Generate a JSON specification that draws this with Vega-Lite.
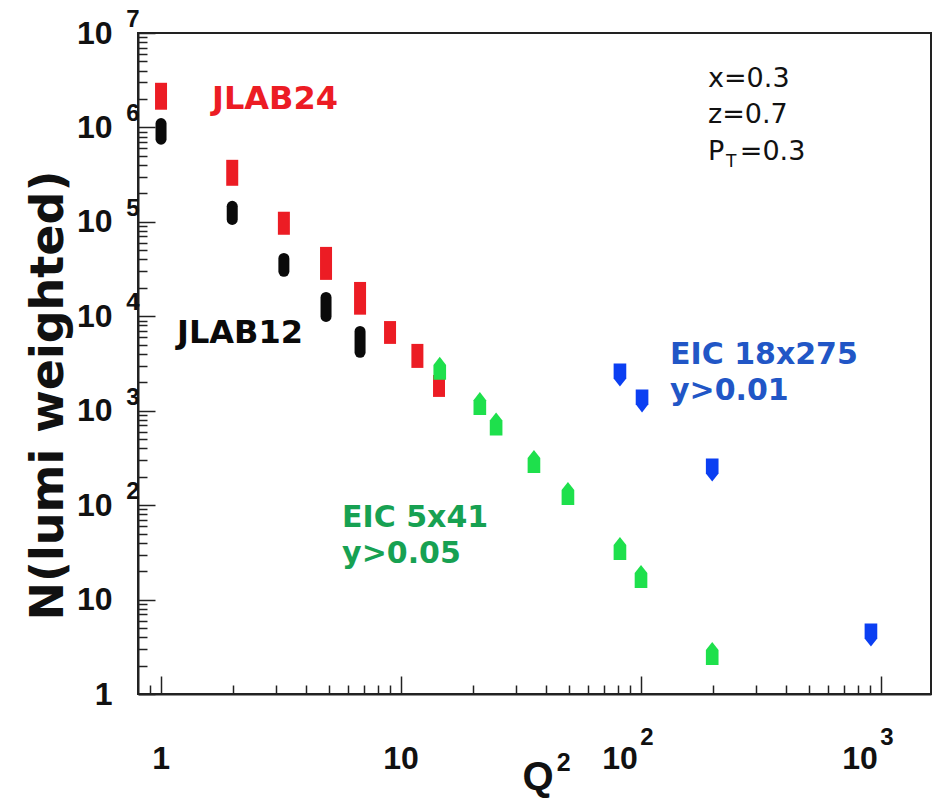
{
  "$schema": "https://vega.github.io/schema/vega-lite/v6.json",
  "width": 793,
  "height": 661,
  "autosize": "none",
  "padding": {"left": 138, "top": 33, "right": 18, "bottom": 108},
  "background": "white",
  "config": {
    "view": {"stroke": "#222", "strokeWidth": 2},
    "axis": {"grid": false}
  },
  "datasets": {
    "jlab24": [
      {"q2": 1.0, "n_low": 1540000, "n_high": 2970000},
      {"q2": 1.98, "n_low": 241000, "n_high": 454000},
      {"q2": 3.25, "n_low": 73000, "n_high": 128000},
      {"q2": 4.87, "n_low": 24300, "n_high": 54300},
      {"q2": 6.75, "n_low": 10400, "n_high": 23100},
      {"q2": 9.0, "n_low": 5100, "n_high": 8900},
      {"q2": 11.7, "n_low": 2840, "n_high": 5100},
      {"q2": 14.4, "n_low": 1400, "n_high": 2390}
    ],
    "jlab12": [
      {"q2": 1.0, "n_low": 750000, "n_high": 1100000},
      {"q2": 1.98, "n_low": 106000, "n_high": 146000},
      {"q2": 3.25, "n_low": 29900, "n_high": 41000},
      {"q2": 4.87, "n_low": 9970, "n_high": 15850},
      {"q2": 6.75, "n_low": 4150, "n_high": 6920}
    ],
    "eic_5x41": [
      {"q2": 14.5, "n": 2810},
      {"q2": 21.3, "n": 1190},
      {"q2": 24.9, "n": 725},
      {"q2": 35.8, "n": 290},
      {"q2": 49.6, "n": 133},
      {"q2": 81.7, "n": 34.8},
      {"q2": 100, "n": 17.6},
      {"q2": 198, "n": 2.69}
    ],
    "eic_18x275": [
      {"q2": 81.7, "n": 2390},
      {"q2": 101, "n": 1270},
      {"q2": 198, "n": 236},
      {"q2": 908, "n": 4.22}
    ],
    "x_labels": [
      {"q2": 1, "label": "1"},
      {"q2": 10, "label": "10"}
    ],
    "x_labels_pow": [
      {"q2": 100, "label": "10", "exp": "2"},
      {"q2": 1000, "label": "10", "exp": "3"}
    ],
    "y_exponents": [
      {"n": 100, "exp": "2"},
      {"n": 1000, "exp": "3"},
      {"n": 10000, "exp": "4"},
      {"n": 100000, "exp": "5"},
      {"n": 1000000, "exp": "6"},
      {"n": 10000000, "exp": "7"}
    ],
    "anchor": [{}]
  },
  "layer": [
    {
      "data": {"name": "jlab24"},
      "mark": {"type": "rule", "strokeWidth": 12, "strokeCap": "butt", "color": "#ec1c24"},
      "encoding": {
        "x": {
          "field": "q2", "type": "quantitative",
          "scale": {"type": "log", "domain": [0.8017, 1615.6], "nice": false},
          "axis": {
            "orient": "bottom", "values": [1, 10, 100, 1000], "labels": false,
            "tickSize": -18, "tickColor": "#222", "tickWidth": 1.5,
            "domainColor": "#222", "domainWidth": 2, "title": null
          }
        },
        "y": {
          "field": "n_low", "type": "quantitative",
          "scale": {"type": "log", "domain": [1, 10000000], "nice": false},
          "axis": {
            "orient": "left",
            "values": [1, 10, 100, 1000, 10000, 100000, 1000000, 10000000],
            "labelExpr": "datum.value == 1 ? '1' : '10'",
            "labelFont": "Liberation Sans", "labelFontSize": 32, "labelFontWeight": "bold",
            "labelColor": "#111", "labelPadding": 43, "labelOverlap": false, "labelBaseline": "middle",
            "tickSize": -17, "tickColor": "#222", "tickWidth": 1.5,
            "domainColor": "#222", "domainWidth": 2,
            "title": "N(lumi weighted)",
            "titleFont": "DejaVu Sans", "titleFontSize": 46, "titleFontWeight": "bold",
            "titleColor": "#111", "titleAngle": -90, "titleBaseline": "bottom", "titleAlign": "center",
            "titleX": -66, "titleY": 362
          }
        },
        "y2": {"field": "n_high"}
      }
    },
    {
      "data": {"name": "jlab12"},
      "mark": {"type": "rule", "strokeWidth": 11, "strokeCap": "round", "color": "#0a0a0a"},
      "encoding": {
        "x": {
          "field": "q2", "type": "quantitative",
          "scale": {"type": "log", "domain": [0.8017, 1615.6], "nice": false},
          "axis": {
            "orient": "bottom",
            "values": [0.9, 2, 3, 4, 5, 6, 7, 8, 9, 20, 30, 40, 50, 60, 70, 80, 90, 200, 300, 400, 500, 600, 700, 800, 900],
            "labels": false, "domain": false,
            "tickSize": -9, "tickColor": "#222", "tickWidth": 1.5, "title": null
          }
        },
        "y": {
          "field": "n_low", "type": "quantitative",
          "scale": {"type": "log", "domain": [1, 10000000], "nice": false},
          "axis": {
            "orient": "left",
            "values": [2, 3, 4, 5, 6, 7, 8, 9,
                       20, 30, 40, 50, 60, 70, 80, 90,
                       200, 300, 400, 500, 600, 700, 800, 900,
                       2000, 3000, 4000, 5000, 6000, 7000, 8000, 9000,
                       20000, 30000, 40000, 50000, 60000, 70000, 80000, 90000,
                       200000, 300000, 400000, 500000, 600000, 700000, 800000, 900000,
                       2000000, 3000000, 4000000, 5000000, 6000000, 7000000, 8000000, 9000000],
            "labels": false, "domain": false,
            "tickSize": -9, "tickColor": "#222", "tickWidth": 1.5, "title": null
          }
        },
        "y2": {"field": "n_high"}
      }
    },
    {
      "data": {"name": "eic_5x41"},
      "mark": {
        "type": "point", "filled": true, "opacity": 1, "size": 529, "color": "#1ee04c",
        "shape": "M0,-1L0.55,-0.3L0.55,1L-0.55,1L-0.55,-0.3Z"
      },
      "encoding": {
        "x": {"field": "q2", "type": "quantitative", "scale": {"type": "log", "domain": [0.8017, 1615.6], "nice": false}, "axis": null},
        "y": {"field": "n", "type": "quantitative", "scale": {"type": "log", "domain": [1, 10000000], "nice": false}, "axis": null}
      }
    },
    {
      "data": {"name": "eic_18x275"},
      "mark": {
        "type": "point", "filled": true, "opacity": 1, "size": 529, "color": "#0b3ff2",
        "shape": "M0,1L0.55,0.3L0.55,-1L-0.55,-1L-0.55,0.3Z"
      },
      "encoding": {
        "x": {"field": "q2", "type": "quantitative", "scale": {"type": "log", "domain": [0.8017, 1615.6], "nice": false}, "axis": null},
        "y": {"field": "n", "type": "quantitative", "scale": {"type": "log", "domain": [1, 10000000], "nice": false}, "axis": null}
      }
    },
    {
      "data": {"name": "y_exponents"},
      "mark": {"type": "text", "font": "Liberation Sans", "fontSize": 24, "fontWeight": "bold", "color": "#111", "align": "center", "baseline": "alphabetic", "dx": -5, "dy": -6},
      "encoding": {
        "x": {"datum": 0.8017, "type": "quantitative", "scale": {"type": "log", "domain": [0.8017, 1615.6], "nice": false}, "axis": null},
        "y": {"field": "n", "type": "quantitative", "scale": {"type": "log", "domain": [1, 10000000], "nice": false}, "axis": null},
        "text": {"field": "exp"}
      }
    },
    {
      "data": {"name": "x_labels"},
      "mark": {"type": "text", "font": "Liberation Sans", "fontSize": 32, "fontWeight": "bold", "color": "#111", "align": "center", "baseline": "top", "dy": 50},
      "encoding": {
        "x": {"field": "q2", "type": "quantitative", "scale": {"type": "log", "domain": [0.8017, 1615.6], "nice": false}, "axis": null},
        "y": {"datum": 1, "type": "quantitative", "scale": {"type": "log", "domain": [1, 10000000], "nice": false}, "axis": null},
        "text": {"field": "label"}
      }
    },
    {
      "data": {"name": "x_labels_pow"},
      "mark": {"type": "text", "font": "Liberation Sans", "fontSize": 32, "fontWeight": "bold", "color": "#111", "align": "center", "baseline": "top", "dx": -21, "dy": 50},
      "encoding": {
        "x": {"field": "q2", "type": "quantitative", "scale": {"type": "log", "domain": [0.8017, 1615.6], "nice": false}, "axis": null},
        "y": {"datum": 1, "type": "quantitative", "scale": {"type": "log", "domain": [1, 10000000], "nice": false}, "axis": null},
        "text": {"field": "label"}
      }
    },
    {
      "data": {"name": "x_labels_pow"},
      "mark": {"type": "text", "font": "Liberation Sans", "fontSize": 24, "fontWeight": "bold", "color": "#111", "align": "center", "baseline": "top", "dx": 6, "dy": 32},
      "encoding": {
        "x": {"field": "q2", "type": "quantitative", "scale": {"type": "log", "domain": [0.8017, 1615.6], "nice": false}, "axis": null},
        "y": {"datum": 1, "type": "quantitative", "scale": {"type": "log", "domain": [1, 10000000], "nice": false}, "axis": null},
        "text": {"field": "exp"}
      }
    },
    {
      "data": {"name": "anchor"},
      "mark": {"type": "text", "text": "Q", "font": "Liberation Sans", "fontSize": 40, "fontWeight": "bold", "color": "#111", "align": "center", "baseline": "top", "dy": 64},
      "encoding": {
        "x": {"datum": 37.2, "type": "quantitative", "scale": {"type": "log", "domain": [0.8017, 1615.6], "nice": false}, "axis": null},
        "y": {"datum": 1, "type": "quantitative", "scale": {"type": "log", "domain": [1, 10000000], "nice": false}, "axis": null}
      }
    },
    {
      "data": {"name": "anchor"},
      "mark": {"type": "text", "text": "2", "font": "Liberation Sans", "fontSize": 25, "fontWeight": "bold", "color": "#111", "align": "center", "baseline": "top", "dy": 57},
      "encoding": {
        "x": {"datum": 47.6, "type": "quantitative", "scale": {"type": "log", "domain": [0.8017, 1615.6], "nice": false}, "axis": null},
        "y": {"datum": 1, "type": "quantitative", "scale": {"type": "log", "domain": [1, 10000000], "nice": false}, "axis": null}
      }
    },
    {
      "data": {"name": "anchor"},
      "mark": {"type": "text", "text": "JLAB24", "font": "DejaVu Sans", "fontSize": 32, "fontWeight": "bold", "color": "#ec1c24", "align": "left", "baseline": "alphabetic"},
      "encoding": {
        "x": {"datum": 1.631, "type": "quantitative", "scale": {"type": "log", "domain": [0.8017, 1615.6], "nice": false}, "axis": null},
        "y": {"datum": 1574000, "type": "quantitative", "scale": {"type": "log", "domain": [1, 10000000], "nice": false}, "axis": null}
      }
    },
    {
      "data": {"name": "anchor"},
      "mark": {"type": "text", "text": "JLAB12", "font": "DejaVu Sans", "fontSize": 32, "fontWeight": "bold", "color": "#0a0a0a", "align": "left", "baseline": "alphabetic"},
      "encoding": {
        "x": {"datum": 1.166, "type": "quantitative", "scale": {"type": "log", "domain": [0.8017, 1615.6], "nice": false}, "axis": null},
        "y": {"datum": 5230, "type": "quantitative", "scale": {"type": "log", "domain": [1, 10000000], "nice": false}, "axis": null}
      }
    },
    {
      "data": {"name": "anchor"},
      "mark": {"type": "text", "text": "EIC 5x41", "font": "DejaVu Sans", "fontSize": 30, "fontWeight": "bold", "color": "#17a152", "align": "left", "baseline": "alphabetic"},
      "encoding": {
        "x": {"datum": 5.68, "type": "quantitative", "scale": {"type": "log", "domain": [0.8017, 1615.6], "nice": false}, "axis": null},
        "y": {"datum": 58.7, "type": "quantitative", "scale": {"type": "log", "domain": [1, 10000000], "nice": false}, "axis": null}
      }
    },
    {
      "data": {"name": "anchor"},
      "mark": {"type": "text", "text": "y>0.05", "font": "DejaVu Sans", "fontSize": 30, "fontWeight": "bold", "color": "#17a152", "align": "left", "baseline": "alphabetic"},
      "encoding": {
        "x": {"datum": 5.68, "type": "quantitative", "scale": {"type": "log", "domain": [0.8017, 1615.6], "nice": false}, "axis": null},
        "y": {"datum": 24.4, "type": "quantitative", "scale": {"type": "log", "domain": [1, 10000000], "nice": false}, "axis": null}
      }
    },
    {
      "data": {"name": "anchor"},
      "mark": {"type": "text", "text": "EIC 18x275", "font": "DejaVu Sans", "fontSize": 30, "fontWeight": "bold", "color": "#2156c6", "align": "left", "baseline": "alphabetic"},
      "encoding": {
        "x": {"datum": 132.1, "type": "quantitative", "scale": {"type": "log", "domain": [0.8017, 1615.6], "nice": false}, "axis": null},
        "y": {"datum": 3131, "type": "quantitative", "scale": {"type": "log", "domain": [1, 10000000], "nice": false}, "axis": null}
      }
    },
    {
      "data": {"name": "anchor"},
      "mark": {"type": "text", "text": "y>0.01", "font": "DejaVu Sans", "fontSize": 30, "fontWeight": "bold", "color": "#2156c6", "align": "left", "baseline": "alphabetic"},
      "encoding": {
        "x": {"datum": 132.1, "type": "quantitative", "scale": {"type": "log", "domain": [0.8017, 1615.6], "nice": false}, "axis": null},
        "y": {"datum": 1301, "type": "quantitative", "scale": {"type": "log", "domain": [1, 10000000], "nice": false}, "axis": null}
      }
    },
    {
      "data": {"name": "anchor"},
      "mark": {"type": "text", "text": "x=0.3", "font": "DejaVu Sans", "fontSize": 27, "color": "#111", "align": "left", "baseline": "alphabetic"},
      "encoding": {
        "x": {"datum": 190.2, "type": "quantitative", "scale": {"type": "log", "domain": [0.8017, 1615.6], "nice": false}, "axis": null},
        "y": {"datum": 2690000, "type": "quantitative", "scale": {"type": "log", "domain": [1, 10000000], "nice": false}, "axis": null}
      }
    },
    {
      "data": {"name": "anchor"},
      "mark": {"type": "text", "text": "z=0.7", "font": "DejaVu Sans", "fontSize": 27, "color": "#111", "align": "left", "baseline": "alphabetic"},
      "encoding": {
        "x": {"datum": 190.2, "type": "quantitative", "scale": {"type": "log", "domain": [0.8017, 1615.6], "nice": false}, "axis": null},
        "y": {"datum": 1120000, "type": "quantitative", "scale": {"type": "log", "domain": [1, 10000000], "nice": false}, "axis": null}
      }
    },
    {
      "data": {"name": "anchor"},
      "mark": {"type": "text", "text": "P", "font": "DejaVu Sans", "fontSize": 27, "color": "#111", "align": "left", "baseline": "alphabetic"},
      "encoding": {
        "x": {"datum": 190.2, "type": "quantitative", "scale": {"type": "log", "domain": [0.8017, 1615.6], "nice": false}, "axis": null},
        "y": {"datum": 454000, "type": "quantitative", "scale": {"type": "log", "domain": [1, 10000000], "nice": false}, "axis": null}
      }
    },
    {
      "data": {"name": "anchor"},
      "mark": {"type": "text", "text": "T", "font": "DejaVu Sans", "fontSize": 17, "color": "#111", "align": "left", "baseline": "alphabetic"},
      "encoding": {
        "x": {"datum": 226, "type": "quantitative", "scale": {"type": "log", "domain": [0.8017, 1615.6], "nice": false}, "axis": null},
        "y": {"datum": 383000, "type": "quantitative", "scale": {"type": "log", "domain": [1, 10000000], "nice": false}, "axis": null}
      }
    },
    {
      "data": {"name": "anchor"},
      "mark": {"type": "text", "text": "=0.3", "font": "DejaVu Sans", "fontSize": 27, "color": "#111", "align": "left", "baseline": "alphabetic"},
      "encoding": {
        "x": {"datum": 258, "type": "quantitative", "scale": {"type": "log", "domain": [0.8017, 1615.6], "nice": false}, "axis": null},
        "y": {"datum": 454000, "type": "quantitative", "scale": {"type": "log", "domain": [1, 10000000], "nice": false}, "axis": null}
      }
    }
  ],
  "resolve": {"axis": {"x": "independent", "y": "independent"}}
}
